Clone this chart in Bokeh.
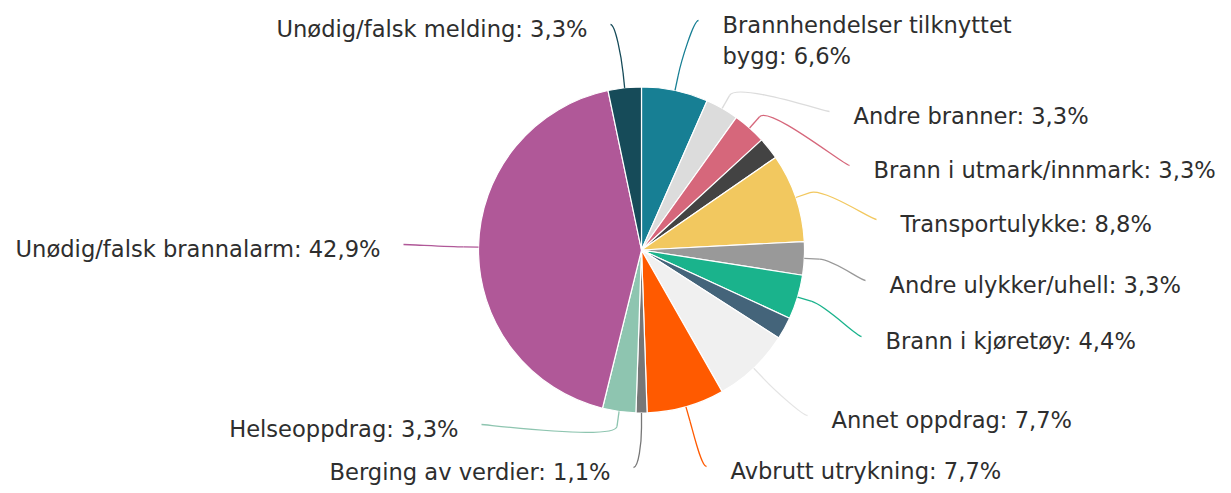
import math
from bokeh.plotting import figure
from bokeh.models import Range1d, ColumnDataSource
from bokeh.embed import file_html
from bokeh.resources import INLINE
from bokeh.core.properties import value

# ---------------- data ----------------
categories = [
    "Brannhendelser tilknyttet bygg",
    "Andre branner",
    "Brann i utmark/innmark",
    "Ukjent kategori A",          # small slice, label not shown
    "Transportulykke",
    "Andre ulykker/uhell",
    "Brann i kjøretøy",
    "Ukjent kategori B",          # small slice, label not shown
    "Annet oppdrag",
    "Avbrutt utrykning",
    "Berging av verdier",
    "Helseoppdrag",
    "Unødig/falsk brannalarm",
    "Unødig/falsk melding",
]
percent = [6.6, 3.3, 3.3, 2.2, 8.8, 3.3, 4.4, 2.2, 7.7, 7.7, 1.1, 3.3, 42.9, 3.3]
label_shown = [True, True, True, False, True, True, True, False,
               True, True, True, True, True, True]

# ---------------- styles ----------------
colors = ["#177f94", "#dcdcdc", "#d6677b", "#434343", "#f2c85f", "#999999",
          "#1ab38c", "#44647a", "#f0f0f0", "#ff5a00", "#777777", "#8ec5b0",
          "#b05898", "#164b59"]
connector_colors = list(colors)
connector_colors[8] = "#e4e4e4"

# label layout in picture pixels: (text x, text y centre, align)
label_layout = [
    (722, 40, "left"),
    (853, 115, "left"),
    (873, 169, "left"),
    None,
    (900, 223, "left"),
    (889, 284, "left"),
    (885, 340, "left"),
    None,
    (831, 419, "left"),
    (730, 470, "left"),
    (610, 471, "right"),
    (458, 428, "right"),
    (380, 248, "right"),
    (587, 28, "right"),
]
wrap_names = {"Brannhendelser tilknyttet bygg": "Brannhendelser tilknyttet\nbygg"}

W, H = 1223, 485
CX, CY_IMG, R = 641, 249.5, 163


def Y(img_y):
    return -img_y


CY = Y(CY_IMG)

p = figure(width=W, height=H, output_backend="svg", toolbar_location=None,
           x_range=Range1d(0, W), y_range=Range1d(-H, 0),
           min_border=0, match_aspect=False)
p.axis.visible = False
p.grid.visible = False
p.outline_line_color = None
p.background_fill_color = "white"
p.border_fill_color = "white"

total = sum(percent)
starts, ends, mids = [], [], []
cum = 0.0
for v in percent:
    a0 = cum / total * 2 * math.pi
    cum += v
    a1 = cum / total * 2 * math.pi
    starts.append(a0)
    ends.append(a1)
    mids.append((a0 + a1) / 2)

src = ColumnDataSource(dict(
    x=[CX] * len(percent), y=[CY] * len(percent),
    start=[math.pi / 2 - e for e in ends],
    end=[math.pi / 2 - s for s in starts],
    color=colors,
))
p.wedge(x="x", y="y", radius=R, start_angle="start", end_angle="end",
        fill_color="color", line_color="white", line_width=1.2, source=src)

# connectors + labels
seg = dict(x0=[], y0=[], x1=[], y1=[], c=[])
bez = dict(x0=[], y0=[], x1=[], y1=[], cx0=[], cy0=[], cx1=[], cy1=[], c=[])
txt = {"left": dict(x=[], y=[], t=[]), "right": dict(x=[], y=[], t=[])}

for i, name in enumerate(categories):
    if not label_shown[i]:
        continue
    tx, ty, align = label_layout[i]
    a = mids[i]
    touch = (CX + R * math.sin(a), CY + R * math.cos(a))
    brk = (CX + (R + 15) * math.sin(a), CY + (R + 15) * math.cos(a))
    disp = wrap_names.get(name, name)
    if align == "left":
        ex = tx - 24
        sign = -1
    else:
        ex = tx + 23
        sign = 1
    if "\n" in disp:
        ey = Y(ty - 20)
    else:
        ey = Y(ty - 4)
    seg["x0"].append(touch[0]); seg["y0"].append(touch[1])
    seg["x1"].append(brk[0]); seg["y1"].append(brk[1])
    seg["c"].append(connector_colors[i])
    bez["x0"].append(brk[0]); bez["y0"].append(brk[1])
    bez["cx0"].append(2 * brk[0] - touch[0]); bez["cy0"].append(2 * brk[1] - touch[1])
    bez["cx1"].append(ex + sign * 5); bez["cy1"].append(ey)
    bez["x1"].append(ex); bez["y1"].append(ey)
    bez["c"].append(connector_colors[i])
    pct = f"{percent[i]:.1f}".replace(".", ",")
    txt[align]["x"].append(tx)
    txt[align]["y"].append(Y(ty))
    txt[align]["t"].append(f"{disp}: {pct}%")

p.segment(x0="x0", y0="y0", x1="x1", y1="y1", line_color="c", line_width=1.3,
          source=ColumnDataSource(seg))
p.bezier(x0="x0", y0="y0", x1="x1", y1="y1", cx0="cx0", cy0="cy0",
         cx1="cx1", cy1="cy1", line_color="c", line_width=1.3,
         source=ColumnDataSource(bez))

for align in ("left", "right"):
    p.text(x="x", y="y", text="t", source=ColumnDataSource(txt[align]),
           text_align=align, text_baseline="middle",
           text_font=value("DejaVu Sans"), text_font_size="22.6px",
           text_color="#2e2e2e", text_line_height=1.18)

open("out.html", "w").write(file_html(p, INLINE))
